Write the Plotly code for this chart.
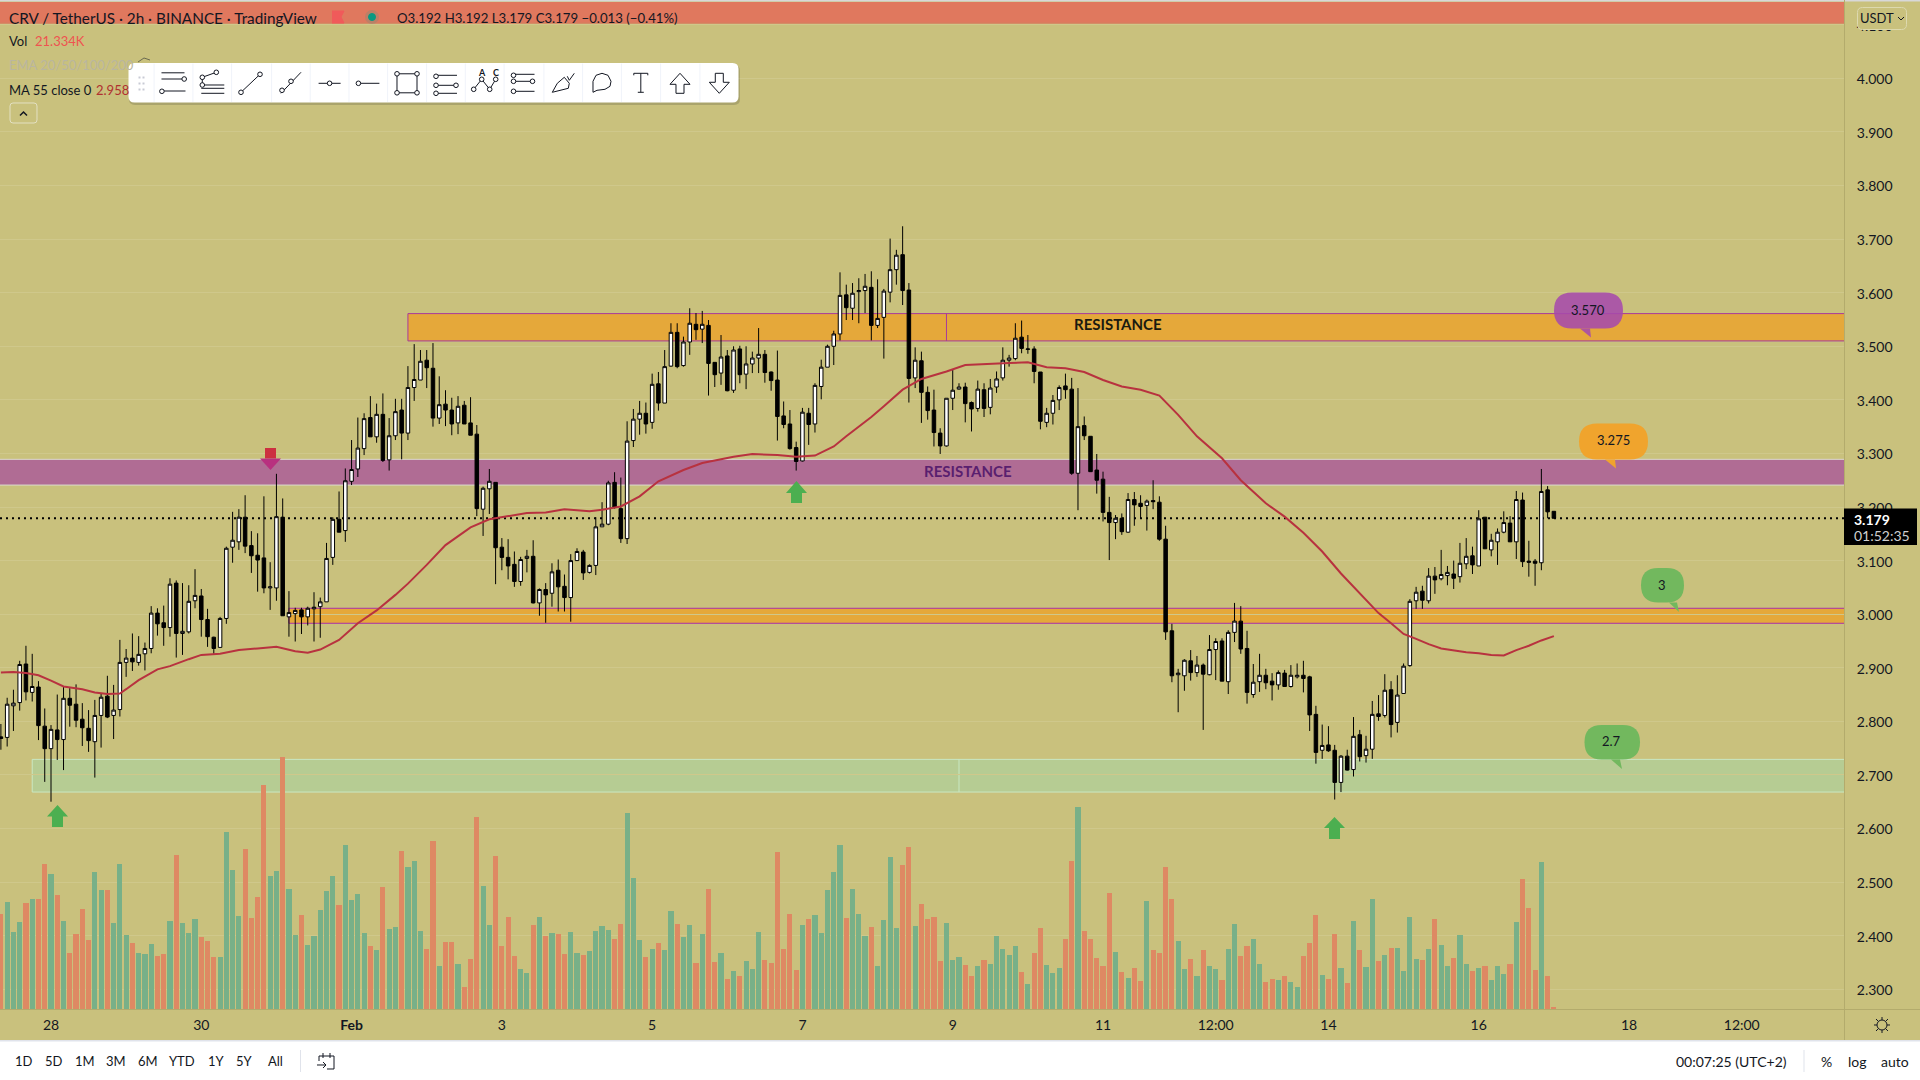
import pandas as pd
import plotly.graph_objects as go

# ---------- data (CRV / USDT, 2h candles) ----------
first_index = -8          # candles counted from 28 Jan 00:00
opens = [2.771,2.770,2.829,2.835,2.907,2.854,2.864,2.791,2.749,2.784,
 2.766,2.843,2.832,2.804,2.787,2.762,2.811,2.847,2.811,2.822,
 2.910,2.918,2.910,2.926,2.936,3.002,2.984,2.975,3.058,2.964,
 2.967,3.025,3.034,2.990,2.957,2.938,2.992,3.125,3.135,3.181,
 3.128,3.110,3.105,3.049,3.049,3.181,2.995,3.001,3.008,2.995,
 3.010,3.014,3.023,3.106,3.177,3.156,3.248,3.271,3.309,3.367,
 3.331,3.373,3.288,3.333,3.381,3.338,3.423,3.437,3.474,3.459,
 3.366,3.392,3.381,3.357,3.390,3.357,3.336,3.196,3.234,3.246,
 3.125,3.106,3.093,3.061,3.104,3.108,3.021,3.046,3.039,3.082,
 3.052,3.031,3.100,3.116,3.078,3.091,3.163,3.168,3.246,3.197,
 3.141,3.324,3.364,3.375,3.358,3.430,3.394,3.463,3.526,3.464,
 3.508,3.541,3.532,3.539,3.470,3.450,3.482,3.418,3.495,3.448,
 3.467,3.478,3.485,3.452,3.437,3.370,3.355,3.311,3.286,3.375,
 3.355,3.425,3.461,3.500,3.523,3.596,3.571,3.602,3.604,3.610,
 3.539,3.554,3.601,3.643,3.671,3.605,3.441,3.473,3.414,3.381,
 3.338,3.314,3.403,3.420,3.424,3.395,3.384,3.419,3.386,3.424,
 3.441,3.474,3.477,3.517,3.494,3.495,3.452,3.358,3.375,3.400,
 3.426,3.420,3.263,3.352,3.332,3.269,3.252,3.190,3.171,3.179,
 3.153,3.214,3.207,3.203,3.212,3.209,3.140,2.969,2.887,2.885,
 2.913,2.891,2.905,2.887,2.934,2.950,2.874,2.966,2.987,2.936,
 2.850,2.874,2.886,2.875,2.868,2.890,2.865,2.883,2.886,2.883,
 2.813,2.746,2.756,2.746,2.686,2.735,2.710,2.775,2.736,2.748,
 2.814,2.811,2.859,2.798,2.852,2.904,3.025,3.043,3.025,3.071,
 3.066,3.072,3.075,3.070,3.094,3.109,3.090,3.181,3.120,3.135,
 3.153,3.170,3.135,3.213,3.099,3.099,3.096,3.232,3.192]
highs = [2.795,2.844,2.859,2.913,2.941,2.926,2.875,2.824,2.793,2.850,
 2.865,2.862,2.869,2.834,2.821,2.840,2.852,2.885,2.868,2.952,
 2.935,2.964,2.959,2.947,3.015,3.011,3.016,3.067,3.063,3.058,
 3.054,3.084,3.047,3.010,2.958,2.995,3.126,3.191,3.196,3.222,
 3.155,3.151,3.220,3.097,3.262,3.216,3.043,3.012,3.012,3.014,
 3.041,3.031,3.133,3.181,3.229,3.272,3.325,3.367,3.375,3.407,
 3.393,3.412,3.366,3.402,3.402,3.463,3.504,3.493,3.493,3.506,
 3.444,3.418,3.404,3.407,3.398,3.405,3.353,3.238,3.271,3.246,
 3.142,3.140,3.117,3.107,3.120,3.138,3.048,3.058,3.095,3.102,
 3.074,3.112,3.123,3.120,3.093,3.181,3.209,3.249,3.265,3.255,
 3.360,3.383,3.398,3.395,3.449,3.452,3.493,3.543,3.543,3.518,
 3.571,3.562,3.566,3.549,3.470,3.521,3.493,3.500,3.501,3.500,
 3.490,3.534,3.493,3.453,3.492,3.397,3.381,3.322,3.385,3.385,
 3.431,3.475,3.503,3.529,3.638,3.615,3.618,3.627,3.635,3.640,
 3.625,3.607,3.701,3.680,3.724,3.618,3.498,3.490,3.425,3.419,
 3.347,3.403,3.456,3.431,3.432,3.397,3.436,3.431,3.439,3.453,
 3.498,3.484,3.543,3.548,3.521,3.500,3.452,3.385,3.409,3.427,
 3.449,3.441,3.422,3.369,3.332,3.299,3.266,3.219,3.185,3.188,
 3.226,3.228,3.222,3.214,3.250,3.220,3.165,2.982,2.898,2.916,
 2.933,2.922,2.908,2.961,2.955,2.955,2.970,3.021,3.015,2.969,
 2.907,2.926,2.898,2.890,2.895,2.896,2.905,2.908,2.913,2.885,
 2.829,2.794,2.791,2.756,2.737,2.747,2.808,2.784,2.773,2.838,
 2.849,2.888,2.875,2.886,2.908,3.028,3.051,3.053,3.086,3.088,
 3.120,3.090,3.100,3.133,3.142,3.126,3.194,3.181,3.150,3.160,
 3.192,3.183,3.230,3.227,3.137,3.103,3.271,3.239,3.192]
lows = [2.747,2.753,2.782,2.820,2.839,2.837,2.765,2.687,2.650,2.728,
 2.709,2.790,2.789,2.754,2.743,2.695,2.751,2.806,2.767,2.809,
 2.883,2.894,2.904,2.895,2.927,2.960,2.941,2.958,2.919,2.924,
 2.964,3.011,2.958,2.939,2.926,2.938,2.982,3.096,3.120,3.114,
 3.077,3.042,3.039,3.008,3.025,2.997,2.958,2.949,2.963,2.979,
 2.949,2.956,3.023,3.092,3.153,3.135,3.241,3.256,3.297,3.331,
 3.320,3.284,3.268,3.325,3.289,3.325,3.398,3.437,3.422,3.350,
 3.355,3.351,3.334,3.336,3.355,3.334,3.183,3.146,3.187,3.056,
 3.082,3.065,3.051,3.053,3.078,3.020,2.997,2.984,3.014,3.005,
 3.005,2.986,3.100,3.064,3.076,3.073,3.163,3.166,3.197,3.133,
 3.131,3.312,3.335,3.337,3.346,3.380,3.394,3.462,3.459,3.462,
 3.484,3.512,3.506,3.408,3.424,3.428,3.416,3.413,3.431,3.420,
 3.450,3.450,3.432,3.417,3.324,3.347,3.307,3.268,3.285,3.316,
 3.339,3.401,3.461,3.465,3.511,3.549,3.549,3.543,3.562,3.511,
 3.534,3.477,3.582,3.615,3.577,3.395,3.422,3.357,3.363,3.313,
 3.299,3.313,3.381,3.419,3.358,3.341,3.378,3.368,3.373,3.413,
 3.436,3.462,3.474,3.487,3.486,3.431,3.345,3.349,3.354,3.381,
 3.402,3.260,3.194,3.325,3.266,3.225,3.173,3.101,3.140,3.148,
 3.152,3.165,3.178,3.156,3.196,3.137,2.952,2.873,2.817,2.857,
 2.876,2.883,2.784,2.886,2.877,2.875,2.851,2.948,2.926,2.833,
 2.844,2.855,2.860,2.839,2.859,2.865,2.863,2.880,2.854,2.782,
 2.721,2.730,2.743,2.654,2.668,2.708,2.697,2.725,2.723,2.730,
 2.801,2.807,2.770,2.779,2.852,2.902,3.010,3.010,3.020,3.038,
 3.063,3.054,3.047,3.059,3.084,3.075,3.090,3.122,3.108,3.092,
 3.151,3.135,3.103,3.088,3.070,3.053,3.082,3.179,3.179]
closes = [2.768,2.832,2.834,2.906,2.855,2.865,2.792,2.749,2.785,2.766,
 2.843,2.830,2.802,2.788,2.764,2.811,2.845,2.808,2.821,2.910,
 2.918,2.911,2.925,2.936,3.002,2.982,2.975,3.056,2.964,2.968,
 3.024,3.035,2.990,2.958,2.936,2.992,3.123,3.138,3.181,3.127,
 3.109,3.101,3.049,3.051,3.182,2.997,3.003,3.007,2.995,3.011,
 3.013,3.023,3.104,3.177,3.153,3.249,3.270,3.310,3.365,3.331,
 3.373,3.287,3.333,3.378,3.338,3.423,3.438,3.472,3.460,3.366,
 3.391,3.381,3.355,3.388,3.355,3.334,3.197,3.235,3.248,3.124,
 3.106,3.090,3.061,3.102,3.108,3.021,3.046,3.036,3.079,3.051,
 3.031,3.100,3.117,3.077,3.091,3.163,3.168,3.245,3.199,3.141,
 3.323,3.364,3.375,3.355,3.429,3.394,3.462,3.526,3.462,3.508,
 3.543,3.531,3.541,3.468,3.447,3.480,3.417,3.493,3.447,3.467,
 3.478,3.485,3.451,3.436,3.369,3.354,3.309,3.285,3.377,3.354,
 3.427,3.461,3.500,3.523,3.595,3.572,3.599,3.604,3.612,3.539,
 3.552,3.603,3.643,3.670,3.604,3.440,3.474,3.414,3.380,3.339,
 3.314,3.403,3.418,3.424,3.393,3.383,3.420,3.384,3.422,3.439,
 3.474,3.478,3.515,3.496,3.495,3.453,3.360,3.375,3.399,3.423,
 3.419,3.263,3.350,3.333,3.266,3.250,3.190,3.171,3.179,3.154,
 3.214,3.204,3.201,3.211,3.210,3.140,2.967,2.885,2.890,2.914,
 2.891,2.905,2.888,2.934,2.949,2.875,2.966,2.987,2.935,2.854,
 2.873,2.886,2.872,2.868,2.891,2.865,2.886,2.886,2.880,2.812,
 2.742,2.755,2.745,2.686,2.735,2.709,2.772,2.734,2.748,2.813,
 2.809,2.858,2.794,2.849,2.903,3.024,3.041,3.026,3.071,3.064,
 3.074,3.078,3.067,3.095,3.108,3.092,3.178,3.122,3.138,3.153,
 3.171,3.135,3.214,3.098,3.097,3.095,3.229,3.191,3.179]
volumes = [858,966,696,786,957,993,993,1308,1218,1029,
 795,507,678,903,624,1236,1074,1074,777,1308,
 669,597,507,498,588,480,498,795,1389,777,
 687,813,651,615,471,471,1596,1254,840,1443,
 822,1011,2019,1200,1245,2270,1083,669,849,579,
 660,894,1065,1200,939,1479,984,1038,687,570,
 534,1101,723,741,1425,1281,1335,705,543,1515,
 390,606,606,408,201,453,1731,1110,759,1380,
 570,831,480,363,327,759,831,660,687,678,
 498,696,507,489,525,705,750,714,633,768,
 1767,1182,624,471,543,597,534,885,768,651,
 759,417,678,1083,426,507,273,345,300,435,
 363,696,444,417,1416,543,858,354,759,813,
 849,687,1074,1236,1479,822,1083,858,660,741,
 390,804,1371,732,1299,1461,750,948,813,831,
 435,777,444,471,399,300,390,444,408,660,
 543,489,570,336,228,507,732,399,327,372,
 633,1335,1821,705,633,462,390,1047,516,336,
 282,372,255,975,534,507,1281,993,615,363,
 453,300,534,390,363,264,543,768,480,570,
 633,408,246,273,264,300,246,201,480,597,
 849,309,273,678,372,237,795,534,381,993,
 435,489,552,552,345,831,453,444,543,813,
 579,390,462,669,408,345,372,390,264,390,
 318,408,786,1173,912,354,1326,300,21]
assert len(opens) == len(highs) == len(lows) == len(closes) == len(volumes) == 249

ma_index = [-8,-6,-4,-2,0,2,5,7,9,11,12,14,17,19,22,24,27,30,33,36,39,41,43,46,49,52,55,57,60,63,67,70,76,79,82,86,88,91,94,
 97,101,104,109,112,116,119,122,125,127,129,131,133,136,139,143,146,149,153,156,159,162,165,168,171,174,177,180,183,187,190,
 194,197,200,203,206,208,210,212,214,216,218,220,222,224,226,228,230,232,234,236,238,240]
ma_values = [2.891,2.892,2.890,2.886,2.876,2.865,2.860,2.854,2.851,2.852,2.860,2.877,2.897,2.903,2.916,2.924,2.926,2.933,2.936,2.939,2.931,2.928,2.934,2.952,2.983,3.007,3.036,3.057,3.092,3.129,3.162,3.177,3.189,3.190,3.196,3.192,3.195,3.201,3.220,
 3.248,3.269,3.282,3.294,3.299,3.297,3.294,3.296,3.313,3.332,3.350,3.368,3.388,3.419,3.439,3.453,3.465,3.467,3.469,3.470,3.461,3.459,3.452,3.437,3.425,3.419,3.408,3.372,3.332,3.291,3.250,
 3.207,3.182,3.152,3.117,3.076,3.051,3.025,3.002,2.983,2.963,2.954,2.944,2.936,2.932,2.929,2.927,2.924,2.923,2.933,2.941,2.951,2.959]

price_ticks = [2.3,2.4,2.5,2.6,2.7,2.8,2.9,3.0,3.1,3.2,3.3,3.4,3.5,3.6,3.7,3.8,3.9,4.0,4.1]
date_ticks = ["2021-01-28","2021-01-30","2021-02-01","2021-02-03","2021-02-05","2021-02-07","2021-02-09","2021-02-11",
              "2021-02-12 12:00","2021-02-14","2021-02-16","2021-02-18","2021-02-19 12:00"]
date_labels = ["28","30","<b>Feb</b>","3","5","7","9","11","12:00","14","16","18","12:00"]

orange_high_zone = (3.510, 3.561)
purple_zone = (3.241, 3.289)
orange_low_zone = (2.983, 3.011)
green_zone = (2.668, 2.729)
last_price = 3.179

# ---------- helpers ----------
W, H = 1920, 1080
FONT = "Lato"
BG = "#C9C17D"
INK = "#131722"
T0 = pd.Timestamp("2021-01-28")
def when(i): return T0 + pd.Timedelta(hours=2) * i
def X(x): return x / W
def Y(y): return 1 - y / H

n = len(opens)
dates = [when(first_index + k) for k in range(n)]
colors = ["#78B088" if c >= o else "#DE8963" for o, c in zip(opens, closes)]
ma_dates = [when(i) for i in ma_index]
x_left, x_right = when(-8.144), when(286.33)
# zones run past both pane edges so that only their top and bottom borders show
beyond_left, beyond_right = when(-12), when(292)

fig = go.Figure()
fig.add_bar(x=dates, y=volumes, marker=dict(color=colors, line_width=0), width=7200000 * 0.82,
            yaxis="y", showlegend=False)
fig.add_candlestick(x=dates, open=opens, high=highs, low=lows, close=closes, yaxis="y2", showlegend=False,
                    whiskerwidth=0,
                    increasing=dict(line=dict(color="#000000", width=1), fillcolor="#FFFFFF"),
                    decreasing=dict(line=dict(color="#000000", width=1), fillcolor="#000000"))
fig.add_scatter(x=ma_dates, y=ma_values, mode="lines", yaxis="y2", showlegend=False,
                line=dict(color="#B8323F", width=2))

shapes, notes = [], []

def zone(i0, band, fill, edge, i_split=None):
    x0 = when(i0) if i0 is not None else beyond_left
    shapes.append(dict(type="rect", xref="x", yref="y2", x0=x0, x1=beyond_right, y0=band[0], y1=band[1],
                       fillcolor=fill, line=dict(color=edge, width=1), layer="below"))
    if i_split is not None:
        shapes.append(dict(type="line", xref="x", yref="y2", x0=when(i_split), x1=when(i_split), y0=band[0], y1=band[1],
                           line=dict(color=edge, width=1), layer="below"))

zone(57, orange_high_zone, "#E5A83A", "#A83A9C", 143)
zone(None, purple_zone, "#B06C94", "#DBD9CF")
zone(38, orange_low_zone, "#E5A83A", "#A830A8")
zone(-3, green_zone, "#B6CC93", "#C9E8C3", 145)
shapes.append(dict(type="line", xref="x", yref="y2", x0=x_left, x1=x_right, y0=last_price, y1=last_price,
                   line=dict(color="#000000", width=2, dash="2px,4px"), layer="below"))

def poly(points, fill="rgba(0,0,0,0)", line=INK, width=1, close=False, layer="above"):
    d = "M" + " L".join(f"{X(a):.5f},{Y(b):.5f}" for a, b in points) + (" Z" if close else "")
    shapes.append(dict(type="path", xref="paper", yref="paper", path=d, fillcolor=fill,
                       line=dict(color=line, width=width), layer=layer))

def rrect_path(x0, y0, x1, y1, r):
    p = lambda a, b: f"{X(a):.5f},{Y(b):.5f}"
    return (f"M{p(x0+r,y0)} L{p(x1-r,y0)} Q{p(x1,y0)} {p(x1,y0+r)} L{p(x1,y1-r)} Q{p(x1,y1)} {p(x1-r,y1)} "
            f"L{p(x0+r,y1)} Q{p(x0,y1)} {p(x0,y1-r)} L{p(x0,y0+r)} Q{p(x0,y0)} {p(x0+r,y0)} Z")

def rrect(x0, y0, x1, y1, r, fill, line="rgba(0,0,0,0)", width=0):
    shapes.append(dict(type="path", xref="paper", yref="paper", path=rrect_path(x0, y0, x1, y1, r),
                       fillcolor=fill, line=dict(color=line, width=width), layer="above"))

def rect(x0, y0, x1, y1, fill):
    shapes.append(dict(type="rect", xref="paper", yref="paper", x0=X(x0), x1=X(x1), y0=Y(y0), y1=Y(y1),
                       fillcolor=fill, line_width=0, layer="above"))

def dot(cx, cy, r=2.3, fill="#FFFFFF", line=INK):
    shapes.append(dict(type="circle", xref="paper", yref="paper", x0=X(cx-r), x1=X(cx+r), y0=Y(cy+r), y1=Y(cy-r),
                       fillcolor=fill, line=dict(color=line, width=1), layer="above"))

def text(x, y, s, size=14, color=INK, anchor="center", weight=None, family=FONT):
    t = f"<b>{s}</b>" if weight else s
    notes.append(dict(xref="paper", yref="paper", x=X(x), y=Y(y), text=t, showarrow=False, xanchor=anchor,
                      yanchor="middle", borderpad=0, font=dict(family=family, size=size, color=color)))

# header band and legend
rect(0, 2, 1844, 22.5, "#E0785E")
rect(0, 22.5, 1844, 23.5, "#E05A50")
rect(0, 0, 1920, 1.5, "#D8D8D8")
text(8, 18, "CRV / TetherUS · 2h · BINANCE · TradingView", 15.3, anchor="left")
poly([(332,11),(344,11),(341,17),(344,23),(332,23)], fill="#F05A5A", line="#F05A5A")
dot(372, 17, 7, "rgba(120,140,120,0.35)", "rgba(0,0,0,0)")
dot(372, 17, 3.5, "#089981", "#089981")
text(396, 18, "O3.192 H3.192 L3.179 C3.179 −0.013 (−0.41%)", 13.2, anchor="left")
text(8, 41, "Vol", 13, anchor="left")
text(34, 41, "21.334K", 13, "#EF5350", "left")
text(8, 65.5, "EMA 20/50/100/200", 13, "#B9B6A0", "left")
text(8, 89.5, "MA 55 close 0", 13, anchor="left")
text(95, 89.5, "2.958", 13, "#B03030", "left")
poly([(138,62),(144,58),(150,60)], line="#6A6A50")
rrect(10, 103, 37, 123, 3, "rgba(0,0,0,0)", "#E3E0C2", 1)
poly([(20,115.5),(23.5,112),(27,115.5)], line=INK, width=1.5)

# toolbar
rrect(129, 65, 740, 105, 6, "rgba(80,80,60,0.25)")
rrect(128.5, 63, 738.5, 102.5, 6, "#FFFFFF")
centers = [173.5,212.3,251,291,329.6,368.4,407,446,484.7,523.5,563.3,602,640.8,680,719.3]
for c in centers:
    poly([(c-19.4,63.5),(c-19.4,102)], line="#F0F3FA")
for gx in (139.5, 143.5):
    for gy in (77.5, 83.5, 89.5):
        rect(gx-1, gy-1, gx+1, gy+1, "#C8CBD4")
CY = 83.3
def seg(c, *pts): poly([(c+a, CY+b) for a, b in pts])
c = centers[0]; seg(c,(-12,-10.5),(11,-10.5)); seg(c,(-12,-4.3),(9,-4.3)); seg(c,(-10,7.7),(12,7.7)); dot(c+10.7,CY-4.3); dot(c-11.6,CY+8)
c = centers[1]; seg(c,(-11,1.7),(12,1.7)); seg(c,(-11,5),(12,5)); seg(c,(-11,10),(12,10)); seg(c,(-10,-6),(4,-11)); seg(c,(-10,-6),(-10,1.7)); dot(c-10,CY-6); dot(c+4,CY-11); dot(c-10,CY+1.7)
c = centers[2]; seg(c,(-10,9),(9,-9)); dot(c-10,CY+9); dot(c+9,CY-9)
c = centers[3]; seg(c,(-10,10),(10,-11)); dot(c-9,CY+7); dot(c,CY-2)
c = centers[4]; seg(c,(-11,0),(11,0)); dot(c,CY)
c = centers[5]; seg(c,(-8,0),(11,0)); dot(c-10,CY)
c = centers[6]; seg(c,(-10,-9.5),(10,-9.5),(10,9.5),(-10,9.5),(-10,-9.5))
for a, b in ((-10,-9.5),(10,-9.5),(-10,9.5),(10,9.5)): dot(c+a,CY+b)
c = centers[7]; seg(c,(-10,-8),(11,-8)); seg(c,(-10,2),(11,2)); seg(c,(-10,10),(11,10)); dot(c-10,CY-7); dot(c-10,CY+2); dot(c+10,CY+2); dot(c-10,CY+10)
c = centers[8]; seg(c,(-11,6),(-3,-4),(5,6),(11,-4)); dot(c-11,CY+6); dot(c-3,CY-4); dot(c+5,CY+6); dot(c+11,CY-4)
text(c-3, CY-11, "A", 9, weight=True); text(c+11, CY-11, "C", 9, weight=True)
c = centers[9]; seg(c,(-10,-9),(11,-9)); seg(c,(-10,-2),(11,-2)); seg(c,(-10,8),(11,8)); dot(c-10,CY-8); dot(c+9,CY-2); dot(c-10,CY-2); dot(c-10,CY+8)
c = centers[10]; seg(c,(-11,9),(-6,0),(1,-6),(6,0),(5,5),(-11,9)); seg(c,(4,-7),(6,-3),(11,-10))
c = centers[11]; seg(c,(-9,9),(-9,-2),(-6,-8),(0,-10),(6,-8),(9,-2),(8,3),(3,6),(-5,7),(-9,9))
c = centers[12]; seg(c,(-7,-10),(7,-10)); seg(c,(0,-10),(0,9)); seg(c,(-3,9),(3,9)); seg(c,(-7,-10),(-7,-8)); seg(c,(7,-10),(7,-8))
c = centers[13]; seg(c,(0,-10),(10,1),(4,1),(4,10),(-4,10),(-4,1),(-10,1),(0,-10))
c = centers[14]; seg(c,(0,10),(10,-1),(4,-1),(4,-10),(-4,-10),(-4,-1),(-10,-1),(0,10))

# zone labels
text(1117.5, 324.5, "RESISTANCE", 15, "#1A1A10", weight=True)
text(968, 471.5, "RESISTANCE", 15, "#5A1F6F", weight=True)

# arrows on the chart
def up_arrow(cx, top, neck, bottom, fill="#4CAF50"):
    poly([(cx,top),(cx+10.5,neck),(cx+5.5,neck),(cx+5.5,bottom),(cx-5.5,bottom),(cx-5.5,neck),(cx-10.5,neck)],
         fill=fill, line=fill, width=0, close=True)
up_arrow(57.5, 805, 816.5, 827)
up_arrow(796.5, 481, 493, 503)
up_arrow(1334.5, 817, 828, 839)
rect(265, 448, 276, 458.5, "#CC3040")
poly([(260,458.5),(281,458.5),(270.5,470)], fill="#B8307F", line="#B8307F", width=0, close=True)

# speech balloons
def balloon(x0, y0, x1, y1, tail_a, tail_b, tip, fill, label, tx, ty):
    r = min(18, (y1 - y0) / 2)
    rrect(x0, y0, x1, y1, r, fill)
    poly([(tail_a, y1), (tail_b, y1), tip], fill=fill, line=fill, width=0, close=True)
    text(tx, ty, label, 13, INK)
balloon(1554, 292.5, 1623, 328.5, 1580, 1590, (1591, 337.5), "rgba(166,74,172,0.88)", "3.570", 1588, 309.5)
balloon(1579, 423.5, 1648, 459.5, 1605, 1615, (1616, 468.5), "#F0A42D", "3.275", 1613.5, 440)
balloon(1641, 568, 1684, 602.5, 1669, 1677, (1679, 612), "#72B85E", "3", 1662, 585)
balloon(1584.5, 725, 1640, 759.5, 1611, 1620, (1622, 769), "#72B85E", "2.7", 1611.5, 741)

# axis furniture
rect(0, 1041, 1920, 1080, "#FFFFFF")
rect(0, 1040, 1920, 1041.5, "#E0E3EB")
rect(0, 1009, 1920, 1010, "#B3AB6C")
rect(1844, 0, 1845, 1040, "#B3AB6C")
rect(1844, 508.5, 1917, 545, "#000000")
text(1872, 519, "3.179", 14, "#FFFFFF", weight=True)
text(1882, 535.5, "01:52:35", 14, "#D0D0D0")
rrect(1857.5, 7.5, 1906.5, 29.5, 5, BG, "#DDD9B0", 1)
text(1877, 18.5, "USDT", 13)
poly([(1898,17),(1901,20),(1904,17)], line=INK, width=1)
dot(1882, 1025, 5, "rgba(0,0,0,0)", INK)
for a, b, u, v in ((0,-5,0,-8),(0,5,0,8),(-5,0,-8,0),(5,0,8,0),(-3.5,-3.5,-6,-6),(3.5,-3.5,6,-6),(-3.5,3.5,-6,6),(3.5,3.5,6,6)):
    poly([(1882+a,1025+b),(1882+u,1025+v)])

# bottom bar
for x_, s in ((24,"1D"),(54,"5D"),(85,"1M"),(116,"3M"),(147.5,"6M"),(182,"YTD"),(216,"1Y"),(245,"5Y"),(275.5,"All")):
    text(x_, 1061, s, 13)
rect(300, 1050, 301, 1072, "#E0E3EB")
poly([(319,1056),(334,1056),(334,1069),(327,1069)])
poly([(319,1056),(319,1061)])
poly([(323,1053),(323,1058)]); poly([(330,1053),(330,1058)])
poly([(317,1065),(326,1065)]); poly([(323,1062),(326,1065),(323,1068)])
text(1731.5, 1061.5, "00:07:25 (UTC+2)", 14)
rect(1803.5, 1050, 1804.5, 1072, "#E0E3EB")
text(1826, 1061.5, "%", 14); text(1857.5, 1061.5, "log", 14); text(1895, 1061.5, "auto", 14)

pane_bottom = (H - 1009) / H
fig.update_layout(
    width=W, height=H, margin=dict(l=0, r=0, t=0, b=0), autosize=False, showlegend=False,
    paper_bgcolor=BG, plot_bgcolor=BG, bargap=0, boxgap=0.2, dragmode=False,
    font=dict(family=FONT, size=14, color=INK), shapes=shapes, annotations=notes,
    xaxis=dict(domain=[0, 1844 / W], type="date", range=[x_left, x_right], anchor="y", rangeslider=dict(visible=False),
               tickmode="array", tickvals=date_ticks, ticktext=date_labels, showgrid=False, zeroline=False,
               ticks="outside", ticklen=3, tickcolor="rgba(0,0,0,0)", tickfont=dict(family=FONT, size=14, color=INK)),
    yaxis=dict(domain=[pane_bottom, 1], range=[0, 9081], visible=False, fixedrange=True),
    yaxis2=dict(domain=[pane_bottom, 1], overlaying="y", side="right", anchor="x",
                range=[2.2631, 4.1463], tickmode="array", tickvals=price_ticks, tickformat=".3f",
                showgrid=True, gridcolor="#CFC88B", gridwidth=1, zeroline=False, ticklabelshift=1,
                ticks="outside", ticklen=9, tickcolor="rgba(0,0,0,0)", tickfont=dict(family=FONT, size=14, color=INK)),
)
fig.write_html("out.html", include_plotlyjs=True, config=dict(displayModeBar=False),
               post_script="document.body.style.margin='0';document.body.style.overflow='hidden';")
